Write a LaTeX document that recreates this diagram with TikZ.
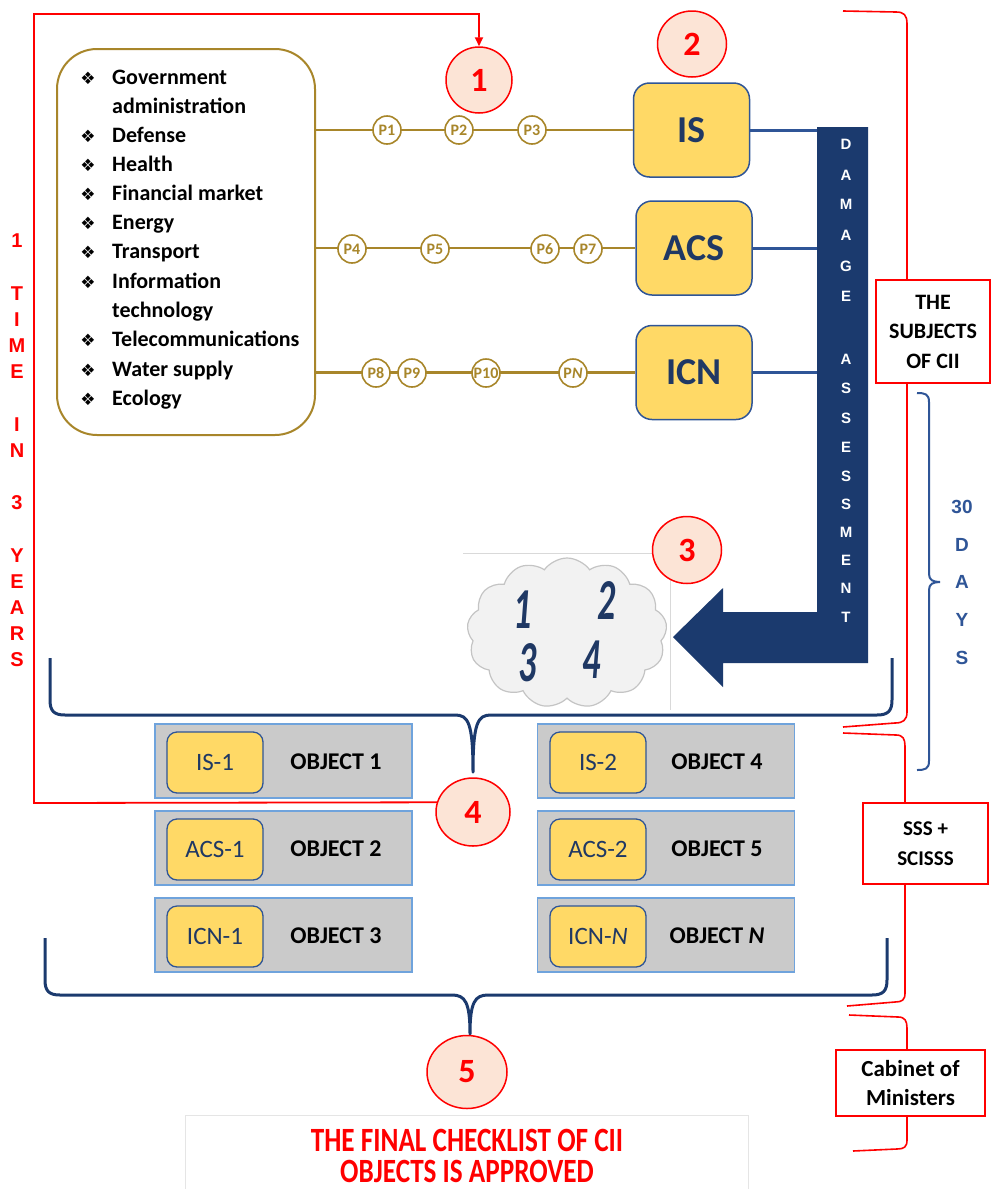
\documentclass[tikz,border=0pt]{standalone}
\usepackage{fontspec}
\setmainfont{Carlito}
\newfontfamily\arialf{Liberation Sans}
\newfontfamily\symf{DejaVu Sans}
\newfontfamily\narrowf{Carlito}[FakeStretch=0.8]
\newfontfamily\digitf{Carlito}[FakeStretch=0.62]
\usetikzlibrary{shapes.geometric,shapes.symbols,arrows.meta}
\definecolor{navy}{HTML}{1B3A6E}
\definecolor{blueln}{HTML}{2F5597}
\definecolor{olive}{HTML}{A8862A}
\definecolor{ybox}{HTML}{FFD966}
\definecolor{peach}{HTML}{FCE4D6}
\definecolor{redc}{HTML}{FF0000}
\definecolor{grayo}{HTML}{CACACA}
\definecolor{lblue}{HTML}{6FA3DC}
\definecolor{cloudf}{HTML}{F2F2F2}
\definecolor{cloudd}{HTML}{C4C4C4}
\definecolor{textn}{HTML}{1F3864}
\tikzset{
  numc/.style={ellipse, draw=redc, line width=1.5pt, fill=peach, inner sep=0pt,
    font=\fontsize{34}{34}\selectfont\bfseries, text=redc},
  pc/.style={circle, draw=olive, line width=1.6pt, fill=white, minimum size=28pt, inner sep=0pt,
    font=\fontsize{16}{16}\selectfont\bfseries, text=olive},
  sysbox/.style={draw=blueln, line width=1.5pt, fill=ybox, rounded corners=16pt,
    minimum width=116pt, minimum height=94pt, inner sep=0pt,
    font=\fontsize{38}{38}\selectfont\bfseries, text=textn},
  objbox/.style={draw=lblue, line width=1.8pt, fill=grayo, minimum width=257pt, minimum height=74pt, inner sep=0pt},
  ylab/.style={draw=blueln, line width=1.3pt, fill=ybox, rounded corners=10pt,
    minimum width=96pt, minimum height=61pt, inner sep=0pt,
    font=\fontsize{25}{25}\selectfont, text=textn},
  objtxt/.style={font=\fontsize{24}{24}\selectfont\bfseries, text=black, inner sep=0pt},
  redbox/.style={draw=redc, line width=1.8pt, fill=white, align=center, inner sep=0pt, text=black},
  listt/.style={font=\fontsize{22}{22}\selectfont\bfseries, text=black, inner sep=0pt},
  bul/.style={font=\symf\fontsize{17}{17}\selectfont, text=black, inner sep=0pt},
  oline/.style={draw=olive, line width=2.2pt},
  bline/.style={draw=blueln, line width=3pt},
  brace/.style={draw=navy, line width=3pt, line join=round},
  redline/.style={draw=redc, line width=1.8pt},
  redthin/.style={draw=redc, line width=1.6pt},
  vlet/.style={font=\arialf\bfseries\fontsize{20}{20}\selectfont, text=redc, inner sep=0pt},
  dlet/.style={font=\arialf\bfseries\fontsize{15}{15}\selectfont, text=white, inner sep=0pt},
  daylet/.style={font=\arialf\bfseries\fontsize{19}{19}\selectfont, text=blueln, inner sep=0pt},
  cdig/.style={font=\digitf\bfseries\itshape\fontsize{58}{58}\selectfont, text=textn, inner sep=0pt},
  fintxt/.style={font=\narrowf\bfseries\fontsize{34}{34}\selectfont, text=redc, inner sep=0pt},
}
\begin{document}
\begin{tikzpicture}[x=1pt,y=-1pt]
\useasboundingbox (0,0) rectangle (992,1189);
\fill[white] (0,0) rectangle (992,1189);

% sector list box
\node[draw=olive, line width=2pt, rounded corners=40pt, minimum width=258pt, minimum height=386pt, inner sep=0pt] (sect) at (186,242) {};
\foreach \t/\y [count=\k] in {Government/84, administration/113, Defense/142, Health/171, Financial market/200, Energy/229, Transport/258, Information/288, technology/317, Telecommunications/346, Water supply/376, Ecology/405}
  \node[listt, anchor=base west] (lt\k) at (112,\y) {\t};
\foreach \y [count=\k] in {84,142,171,200,229,258,288,346,376,405}
  \node[bul, anchor=base] (bu\k) at (88,\y) {❖};

% system boxes
\node[sysbox] (is) at (691.5,130) {IS};
\node[sysbox] (acs) at (694,248) {ACS};
\node[sysbox] (icn) at (694,372.5) {ICN};

% olive lines
\draw[oline] (sect.east |- is.west) -- (is.west);
\draw[oline] (sect.east |- acs.west) -- (acs.west);
\draw[oline] (sect.east |- icn.west) -- (icn.west);
\foreach \n/\x in {1/387, 2/459, 3/532}
  \node[pc] (p\n) at (\x,130) {P\n};
\foreach \n/\x in {4/352, 5/435, 6/545, 7/588}
  \node[pc] (p\n) at (\x,249) {P\n};
\foreach \n/\x in {8/376, 9/412, 10/486}
  \node[pc] (p\n) at (\x,373) {P\n};
\node[pc] (pn) at (573,373) {P\textit{N}};

% damage assessment bar and arrow
\coordinate (barl) at (817,0);
\fill[navy] (817,127) -- (868,127) -- (868,663) -- (723,663) -- (723,687) -- (673,637) -- (723,588) -- (723,612) -- (817,612) -- cycle;
\draw[bline] (is.east) -- (is.east -| barl);
\draw[bline] (acs.east) -- (acs.east -| barl);
\draw[bline] (icn.east) -- (icn.east -| barl);
\foreach \c/\y [count=\k] in {D/144, A/175, M/204, A/235, G/266, E/296, A/359, S/388, S/418, E/447, S/476, S/504, M/532, E/560, N/588, T/617}
  \node[dlet] (da\k) at (846,\y) {\c};

% cloud
\draw[gray!30, line width=0.8pt] (463,553) -- (670,553) -- (670,710);
\node[cloud, cloud puffs=13, cloud puff arc=110, aspect=1.3, draw=cloudd, fill=cloudf, line width=1.2pt, minimum width=200pt, minimum height=150pt, inner sep=0pt] (cloud) at (567,633) {};
\node[cdig] (d1) at (523,610) {1};
\node[cdig] (d2) at (607,600) {2};
\node[cdig] (d3) at (528,663) {3};
\node[cdig] (d4) at (592,660) {4};

% numbered circles
\node[numc, minimum width=66pt, minimum height=66pt] (c1) at (479,80) {1};
\node[numc, minimum width=69pt, minimum height=66pt] (c2) at (692,44) {2};
\node[numc, minimum width=69pt, minimum height=67pt] (c3) at (687,550) {3};

% braces (blue)
\draw[brace] (50,658) -- (50,700) .. controls (50,711) and (54,715) .. (65,715) -- (455,715)
  .. controls (468,715) and (473,722) .. (473,772)
  .. controls (473,722) and (478,715) .. (491,715) -- (877,715)
  .. controls (888,715) and (892,711) .. (892,700) -- (892,658);
\draw[brace] (45,938) -- (45,980) .. controls (45,991) and (49,995) .. (60,995) -- (452,995)
  .. controls (465,995) and (470,1002) .. (470,1034)
  .. controls (470,1002) and (475,995) .. (488,995) -- (872,995)
  .. controls (883,995) and (887,991) .. (887,980) -- (887,938);

% object boxes
\foreach \r/\y in {1/761, 2/848, 3/935} {
  \node[objbox] (ol\r) at (283.5,\y) {};
  \node[objbox] (or\r) at (666,\y) {};
}
\node[ylab] (yl1) at (215,762.5) {IS-1};
\node[ylab] (yl2) at (215,849.5) {ACS-1};
\node[ylab] (yl3) at (215,936.5) {ICN-1};
\node[ylab] (yr1) at (598,762.5) {IS-2};
\node[ylab] (yr2) at (598,849.5) {ACS-2};
\node[ylab] (yr3) at (598,936.5) {ICN-\textit{N}};
\node[objtxt] (tl1) at (336,762) {OBJECT 1};
\node[objtxt] (tl2) at (336,849) {OBJECT 2};
\node[objtxt] (tl3) at (336,936) {OBJECT 3};
\node[objtxt] (tr1) at (717,762) {OBJECT 4};
\node[objtxt] (tr2) at (717,849) {OBJECT 5};
\node[objtxt] (tr3) at (717,936) {OBJECT \textit{N}};

\node[numc, minimum width=74pt, minimum height=68pt] (c4) at (473,812) {4};
\node[numc, minimum width=80pt, minimum height=73pt] (c5) at (467,1072) {5};

% red loop
\coordinate (lb) at (34,803);
\coordinate (ltop) at (34,14);
\draw[redline, -{Triangle[length=9pt,width=8pt]}] (c4.165) -- (lb) -- (ltop) -| (c1.north);
\foreach \c/\y [count=\k] in {1/241, T/294, I/320, M/346, E/372, I/425, N/451, 3/503, Y/556, E/582, A/608, R/634, S/660}
  \node[vlet] (vl\k) at (17,\y) {\c};

% right side labels
\node[redbox, minimum width=114pt, minimum height=103pt, font=\fontsize{22}{29.5}\selectfont\bfseries] (sub) at (933,331.5) {THE\\SUBJECTS\\OF CII};
\node[redbox, minimum width=125pt, minimum height=81pt, font=\fontsize{21}{30}\selectfont\bfseries] (sss) at (925.5,843.5) {SSS +\\SCISSS};
\node[redbox, minimum width=149pt, minimum height=66pt, font=\fontsize{23}{29}\selectfont\bfseries] (cab) at (910.5,1083) {Cabinet of\\Ministers};
\coordinate (va) at (907,0);
\coordinate (vb) at (905,0);
\draw[redthin] (843,11) -- (896,12) .. controls (904,12) and (907,15) .. (907,24) -- (sub.north -| va);
\draw[redthin] (sub.south -| va) -- (907,712) .. controls (907,720) and (903,723) .. (895,723) -- (843,727);
\draw[redthin] (843,733) -- (896,735) .. controls (903,735) and (905,739) .. (905,746) -- (sss.north -| vb);
\draw[redthin] (sss.south -| vb) -- (905,993) .. controls (905,1000) and (902,1002) .. (895,1002) -- (847,1006);
\draw[redthin] (849,1015) -- (898,1017) .. controls (905,1017) and (907,1021) .. (907,1028) -- (cab.north -| va);
\draw[redthin] (cab.south -| va) -- (907,1140) .. controls (907,1147) and (904,1149) .. (897,1149) -- (853,1151);

% 30 days brace
\draw[draw=blueln, line width=2pt] (917,393) .. controls (925,393) and (929,394) .. (929,402) -- (929,574)
  .. controls (929,580) and (933,582) .. (940,582) .. controls (933,582) and (929,584) .. (929,590)
  -- (929,761) .. controls (929,769) and (925,770) .. (917,770);
\foreach \c/\y [count=\k] in {30/507, D/545, A/582, Y/620, S/658}
  \node[daylet] (dy\k) at (962,\y) {\c};

% final text
\draw[gray!20, line width=1pt] (185,1189) -- (185,1115) -- (748,1115) -- (748,1189);
\node[fintxt] (f1) at (467,1140) {THE FINAL CHECKLIST OF CII};
\node[fintxt] (f2) at (467,1171) {OBJECTS IS APPROVED};
\end{tikzpicture}
\end{document}
